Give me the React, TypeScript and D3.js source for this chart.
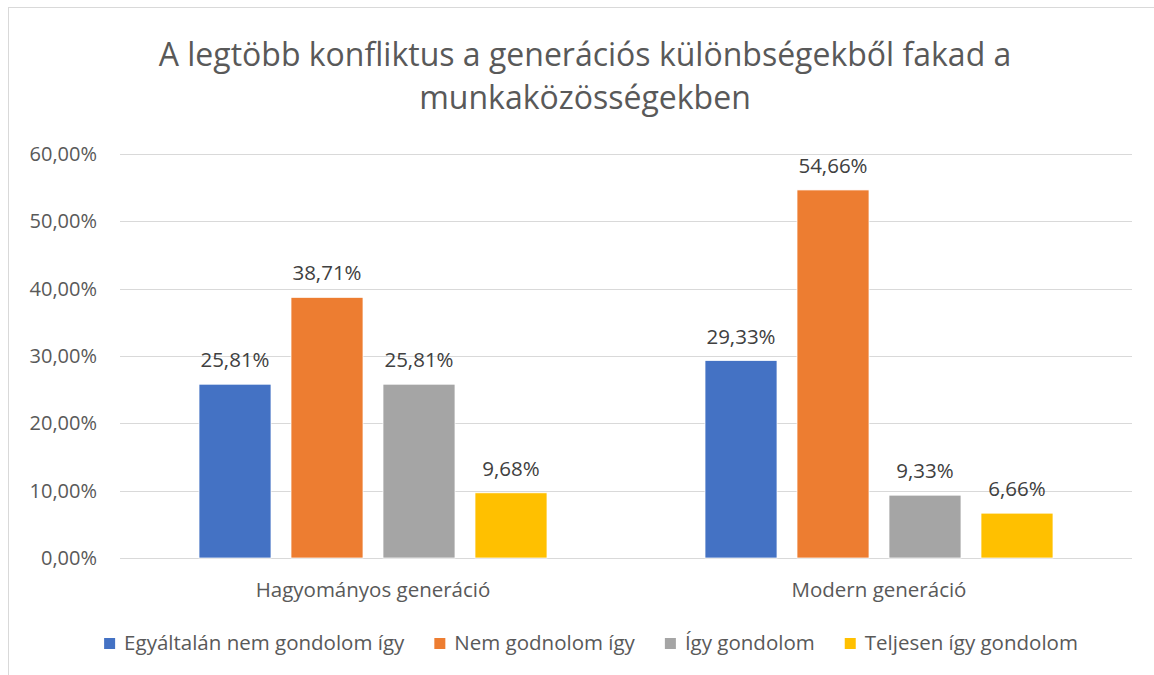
import React, { useEffect, useRef } from 'react';
import * as d3 from 'd3';

const categories = ['Hagyományos generáció', 'Modern generáció'];
const seriesNames = ['Egyáltalán nem gondolom így', 'Nem godnolom így', 'Így gondolom', 'Teljesen így gondolom'];
const seriesColors = ['#4472C4', '#ED7D31', '#A5A5A5', '#FFC000'];
const hagyomanyosValues = [0.2581, 0.3871, 0.2581, 0.0968];
const modernValues = [0.2933, 0.5466, 0.0933, 0.0666];
const yTicks = [0, 0.1, 0.2, 0.3, 0.4, 0.5, 0.6];
const titleLines = ['A legtöbb konfliktus a generációs különbségekből fakad a', 'munkaközösségekben'];

const FONT = "'Open Sans', 'Noto Sans', sans-serif";

const App = () => {
    const ref = useRef<SVGSVGElement>(null);

    useEffect(() => {
        const width = 1154;
        const height = 675;
        const svg = d3.select(ref.current);
        svg.selectAll('*').remove();

        const values = [hagyomanyosValues, modernValues];
        const fmt = (v: number) => (v * 100).toFixed(2).replace('.', ',') + '%';

        // chart frame (only top and left edges are visible in the crop)
        svg.append('rect')
            .attr('x', 8.5).attr('y', 7.5)
            .attr('width', width + 20).attr('height', height + 20)
            .attr('fill', '#fff').attr('stroke', '#d9d9d9').attr('stroke-width', 1);

        // title
        svg.append('text')
            .attr('text-anchor', 'middle')
            .attr('font-family', FONT).attr('font-size', 32).attr('fill', '#595959')
            .selectAll('tspan').data(titleLines).enter()
            .append('tspan')
            .attr('x', 585)
            .attr('y', (d, i) => 66 + i * 43)
            .text((d) => d);

        const x = d3.scaleBand<string>().domain(categories).range([120, 1132]);
        const inner = d3.scaleBand<string>().domain(seriesNames)
            .range([0, x.bandwidth()]).paddingInner(20 / 92).paddingOuter(0.8587);
        const y = d3.scaleLinear().domain([0, 0.6]).range([558, 154]);

        // gridlines
        svg.append('g').selectAll('line').data(yTicks).enter()
            .append('line')
            .attr('x1', 120).attr('x2', 1132)
            .attr('y1', (d) => Math.round(y(d)) + 0.5).attr('y2', (d) => Math.round(y(d)) + 0.5)
            .attr('stroke', '#d9d9d9').attr('stroke-width', 1);

        // y tick labels
        svg.append('g').selectAll('text').data(yTicks).enter()
            .append('text')
            .attr('x', 97).attr('y', (d) => y(d) + 7)
            .attr('text-anchor', 'end')
            .attr('font-family', FONT).attr('font-size', 20).attr('fill', '#595959')
            .text((d) => fmt(d));

        // bars and labels
        const groups = svg.append('g').selectAll('g').data(categories).enter()
            .append('g')
            .attr('transform', (d) => `translate(${x(d)},0)`);

        groups.selectAll('rect').data((d, i) => values[i].map((v, j) => ({ v, s: seriesNames[j], c: seriesColors[j] })))
            .enter().append('rect')
            .attr('x', (d) => inner(d.s) as number)
            .attr('width', inner.bandwidth())
            .attr('y', (d) => y(d.v))
            .attr('height', (d) => y(0) - y(d.v))
            .attr('fill', (d) => d.c)
            .attr('stroke', '#fff').attr('stroke-width', 0.75);

        groups.selectAll('text').data((d, i) => values[i].map((v, j) => ({ v, s: seriesNames[j] })))
            .enter().append('text')
            .attr('x', (d) => (inner(d.s) as number) + inner.bandwidth() / 2)
            .attr('y', (d) => y(d.v) - 17)
            .attr('text-anchor', 'middle')
            .attr('font-family', FONT).attr('font-size', 20.5).attr('fill', '#404040')
            .text((d) => fmt(d.v));

        // category labels
        svg.append('g').selectAll('text').data(categories).enter()
            .append('text')
            .attr('x', (d) => (x(d) as number) + x.bandwidth() / 2)
            .attr('y', 597)
            .attr('text-anchor', 'middle')
            .attr('font-family', FONT).attr('font-size', 20.5).attr('fill', '#595959')
            .text((d) => d);

        // legend
        const legend = svg.append('g');
        const items = legend.selectAll('g').data(seriesNames).enter().append('g');
        items.append('rect')
            .attr('width', 11).attr('height', 11)
            .attr('y', 638)
            .attr('fill', (d, i) => seriesColors[i]);
        items.append('text')
            .attr('x', 20).attr('y', 650)
            .attr('font-family', FONT).attr('font-size', 20.5).attr('fill', '#595959')
            .text((d) => d);
        const widths: number[] = [];
        items.each(function () {
            const t = d3.select(this).select('text').node() as SVGTextElement;
            widths.push(20 + t.getComputedTextLength());
        });
        const gap = 30;
        const total = d3.sum(widths) + gap * (widths.length - 1);
        let cx = 591 - total / 2;
        items.attr('transform', (d, i) => {
            const pos = cx;
            cx += widths[i] + gap;
            return `translate(${pos},0)`;
        });
    }, []);

    return (
        <svg ref={ref} width={1154} height={675}
            style={{ position: 'absolute', left: 0, top: 0, background: '#fff' }} />
    );
};

export default App;
